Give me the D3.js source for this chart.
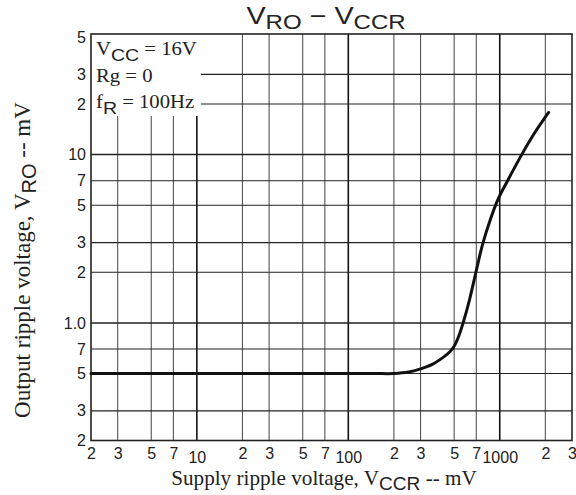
<!DOCTYPE html>
<html><head><meta charset="utf-8">
<script src="https://cdn.jsdelivr.net/npm/d3@7"></script>
<style>body{margin:0;background:#fff}svg{display:block}</style>
</head><body>
<svg id="c" width="576" height="495"></svg>
<script>
const xTicks = [2,3,5,7,10,20,30,50,70,100,200,300,500,700,1000,2000,3000];
const xTickLabels = ["2","3","5","7","10","2","3","5","7","100","2","3","5","7","1000","2","3"];
const yTicks = [50,30,20,10,7,5,3,2,1,0.7,0.5,0.3,0.2];
const yTickLabels = ["5","3","2","10","7","5","3","2","1.0","7","5","3","2"];
const curveX = [2,10,50,100,150,200,250,300,361,423,467,500,535,573,632,693,771,865,969,1127,1397,1673,2102];
const curveY = [0.5,0.5,0.5,0.5,0.5,0.5,0.51,0.533,0.569,0.624,0.671,0.727,0.83,1.0,1.377,1.965,2.94,4.09,5.37,7.0,10.0,13.16,17.8];

const svg = d3.select("#c");
const sans = "'Liberation Sans', Arial, sans-serif";
const serif = "'Liberation Serif', 'Times New Roman', serif";

const x = d3.scaleLog().domain([2,3000]).range([91,572]);
const y = d3.scaleLog().domain([0.2,50]).range([440.5,37]);
const pTop = 34, pBottom = y(0.2), pLeft = x(2), pRight = x(3000);

// grid
const g = svg.append("g");
xTicks.slice(1,-1).forEach(v=>{
  const dec = [10,100,1000].includes(v);
  g.append("line").attr("x1",x(v)).attr("x2",x(v)).attr("y1",pTop).attr("y2",pBottom)
    .attr("stroke", dec?"#111":"#555").attr("stroke-width", dec?1.6:1.1);
});
yTicks.slice(1,-1).forEach(v=>{
  const dec = [10,1].includes(v);
  g.append("line").attr("x1",pLeft).attr("x2",pRight).attr("y1",y(v)).attr("y2",y(v))
    .attr("stroke", "#222").attr("stroke-width", dec?1.5:1.1);
});

// legend white box
svg.append("rect").attr("x",pLeft).attr("y",pTop).attr("width",x(10)+4-pLeft).attr("height",116-pTop).attr("fill","#fff");

// frame
svg.append("rect").attr("x",pLeft).attr("y",pTop).attr("width",pRight-pLeft).attr("height",pBottom-pTop)
  .attr("fill","none").attr("stroke","#222").attr("stroke-width",1.6);

// curve
const pts = curveX.map((v,i)=>[v,curveY[i]]);
svg.append("path").datum(pts)
  .attr("d", d3.line().x(d=>x(d[0])).y(d=>y(d[1])).curve(d3.curveCatmullRom.alpha(0.5)))
  .attr("fill","none").attr("stroke","#111").attr("stroke-width",3).attr("stroke-linecap","round").attr("stroke-linejoin","round");

// x tick labels
const xa = d3.axisBottom(x).tickValues(xTicks).tickFormat((d,i)=>xTickLabels[i]).tickSize(0).tickPadding(0);
const xg = svg.append("g").attr("transform",`translate(0,${pBottom})`).call(xa);
xg.select(".domain").remove();
xg.selectAll("text").attr("font-family",sans).attr("font-size",16).attr("fill","#222")
  .attr("dy",null).attr("y",(d)=>[10,100,1000].includes(d)?22:18);

// y tick labels
const ya = d3.axisLeft(y).tickValues(yTicks).tickFormat((d,i)=>yTickLabels[i]).tickSize(0).tickPadding(5);
const yg = svg.append("g").attr("transform",`translate(${pLeft},0)`).call(ya);
yg.select(".domain").remove();
yg.selectAll("text").attr("font-family",sans).attr("font-size",16).attr("fill","#222");

// title
const t = svg.append("text").attr("transform","translate(326,24) scale(1.2,1)").attr("text-anchor","middle")
  .attr("font-family",sans).attr("font-size",24).attr("fill","#222");
t.append("tspan").text("V");
t.append("tspan").attr("font-size",20).attr("dy",5).text("RO");
t.append("tspan").attr("dy",-5).text(" − V");
t.append("tspan").attr("font-size",20).attr("dy",5).text("CCR");

// legend text
function legendLine(yy, main, sub, rest){
  const tx = svg.append("text").attr("transform",`translate(96,${yy}) scale(1.15,1)`)
    .attr("font-family",serif).attr("font-size",18).attr("fill","#222");
  tx.append("tspan").text(main);
  if(sub){
    tx.append("tspan").attr("font-family",sans).attr("font-size",17).attr("dy",6).text(sub);
    tx.append("tspan").attr("dy",-6).text(rest);
  } else tx.append("tspan").text(rest);
}
legendLine(55,"V","CC"," = 16V");
legendLine(82,"Rg",null," = 0");
legendLine(108,"f","R"," = 100Hz");

// axis titles
const xt = svg.append("text").attr("transform","translate(324,485) scale(1.06,1)").attr("text-anchor","middle")
  .attr("font-family",serif).attr("font-size",20).attr("fill","#222");
xt.append("tspan").text("Supply ripple voltage, V");
xt.append("tspan").attr("font-family",sans).attr("font-size",18).attr("dy",5).text("CCR");
xt.append("tspan").attr("dy",-5).text(" -- mV");

const yt = svg.append("text").attr("transform","translate(30,260) rotate(-90)").attr("text-anchor","middle")
  .attr("font-family",serif).attr("font-size",23).attr("fill","#222");
yt.append("tspan").text("Output ripple voltage, V");
yt.append("tspan").attr("font-family",sans).attr("font-size",20).attr("dy",6).text("RO");
yt.append("tspan").attr("dy",-6).text(" -- mV");
</script>
</body></html>
